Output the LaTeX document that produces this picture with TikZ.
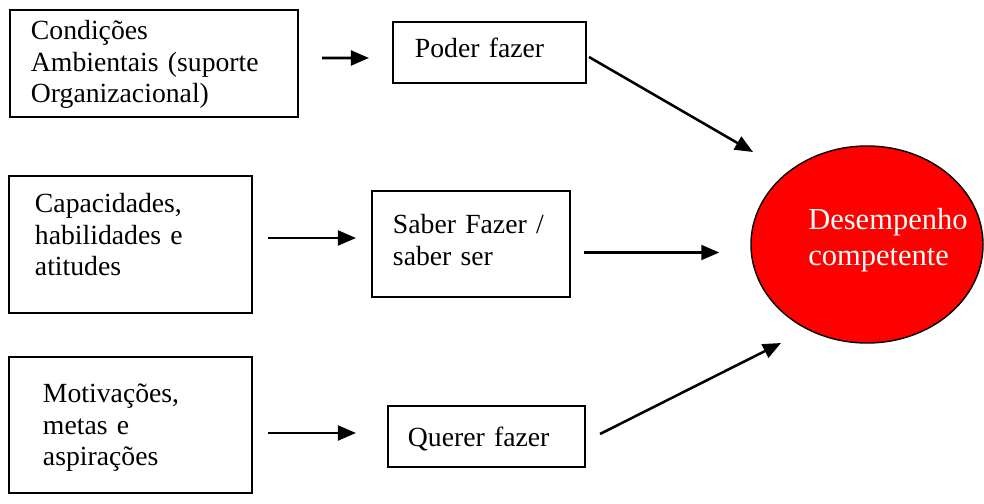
\documentclass[tikz,border=0pt]{standalone}
\usepackage{fontspec}
\setmainfont{Liberation Serif}
\usetikzlibrary{shapes.geometric,arrows.meta}
\tikzset{
	x=0.025cm, y=-0.025cm, % one unit per pixel, y runs downwards
	>={Triangle[length=0.45cm, width=0.37cm]}, % solid arrow heads
	box/.style={draw, line width=1.4pt, rectangle, inner sep=0pt, align=left,
		font=\fontsize{19.7}{22.4}\selectfont, text height=0pt}, % text placed by its depth
	goal/.style={draw, line width=1pt, ellipse, fill=red, inner sep=0pt,
		minimum width=5.8cm, minimum height=4.925cm},
	goaltext/.style={text=white, inner sep=0pt, align=left, text width=4.25cm,
		font=\fontsize{21.7}{25.6}\selectfont},
	link/.style={->, line width=1.8pt},
}

\begin{document}
\begin{tikzpicture}
	\useasboundingbox (0,0) rectangle (984,504);

	% left column
	\node[box, minimum width=7.2cm, minimum height=2.675cm, text width=6.15cm, text depth=1.175cm] (cond) at (154,63.5) {Condições\\Ambientais (suporte\\Organizacional)};
	\node[box, minimum width=6.075cm, minimum height=3.425cm, text width=4.775cm, text depth=1.575cm] (capac) at (130.5,244.5) {Capacidades,\\habilidades e\\atitudes};
	\node[box, minimum width=6.075cm, minimum height=3.4cm, text width=4.375cm, text depth=1.1cm] (motiv) at (130.5,425) {Motivações,\\metas e\\aspirações};

	% middle column
	\node[box, minimum width=4.825cm, minimum height=1.525cm, text width=3.725cm, text height=0.275cm, text depth=0pt] (poder) at (489.5,52.5) {Poder fazer};
	\node[box, minimum width=4.95cm, minimum height=2.65cm, text width=3.9cm, text depth=0.5cm] (saber) at (471,244) {Saber Fazer /\\saber ser};
	\node[box, minimum width=4.925cm, minimum height=1.525cm, text width=3.925cm, text height=0.475cm, text depth=0pt] (querer) at (486.5,436.5) {Querer fazer};

	% result
	\node[goal] (desemp) at (867,244.5) {};
	\node[goaltext, anchor=base west] (desemptxt) at ([shift={(-59,-14.5)}]desemp.center) {Desempenho\\competente};

	\draw[link] ([shift={(23,-5.5)}]cond.east) -- ([shift={(-23,5.5)}]poder.west);
	\draw[link] ([shift={(15,-6.5)}]capac.east) -- ([shift={(-15,-6)}]saber.west);
	\draw[link] ([shift={(15,8)}]motiv.east) -- ([shift={(-31,-3.5)}]querer.west);

	\draw[link] ([shift={(2,4.5)}]poder.east) -- ([shift={(-114,-92.5)}]desemp.center);
	\draw[link] ([shift={(13,8.5)}]saber.east) -- ([shift={(-31,8)}]desemp.west);
	\draw[link] ([shift={(14,-2.5)}]querer.east) -- ([shift={(-86,98.5)}]desemp.center);
\end{tikzpicture}
\end{document}
